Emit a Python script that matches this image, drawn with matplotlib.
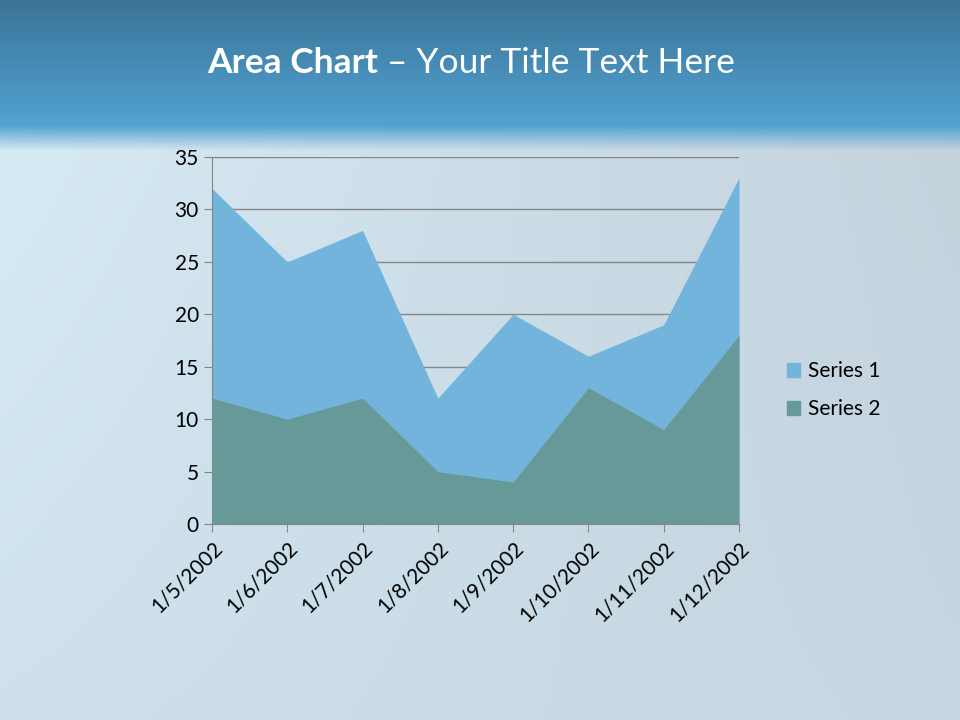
import numpy as np
import matplotlib.pyplot as plt
from matplotlib.patches import Patch

datas = ['1/5/2002', '1/6/2002', '1/7/2002', '1/8/2002', '1/9/2002',
         '1/10/2002', '1/11/2002', '1/12/2002']
serie1 = [32, 25, 28, 12, 20, 16, 19, 33]
serie2 = [12, 10, 12, 5, 4, 13, 9, 18]
y_ticks = [0, 5, 10, 15, 20, 25, 30, 35]

cor1 = '#72b4db'
cor2 = '#679999'

plt.rcParams['font.family'] = ['Lato', 'DejaVu Sans']

fig = plt.figure(figsize=(9.6, 7.2), dpi=100)

# fundo em degrade (faixa azul em cima, cinza-azulado embaixo)
bg = fig.add_axes([0, 0, 1, 1])
h, w = 720, 96
topo = np.array([0x3a, 0x74, 0x97]) / 255
meio = np.array([0x52, 0xa2, 0xd2]) / 255
esq = np.array([0xd6, 0xea, 0xf4]) / 255
dir_ = np.array([0xc4, 0xd2, 0xdc]) / 255
baixo = np.array([0xc8, 0xda, 0xe6]) / 255
img = np.zeros((h, w, 3))
for r in range(h):
    for c in range(w):
        tx = c / (w - 1)
        claro = esq * (1 - tx) + dir_ * tx
        if r < 125:
            t = r / 125
            img[r, c] = topo * (1 - t) + meio * t
        elif r < 150:
            t = (r - 125) / 25
            img[r, c] = meio * (1 - t) + claro * t
        else:
            t = (r - 150) / (h - 150)
            img[r, c] = claro * (1 - t * 0.6) + baixo * t * 0.6
bg.imshow(img, aspect='auto', extent=[0, 1, 0, 1], interpolation='bilinear')
bg.axis('off')

# titulo: parte em negrito + resto normal
t1 = fig.text(207 / 960, 0.912, 'Area Chart', color='white', fontsize=25.5,
              fontweight='bold', ha='left', va='center')
fig.canvas.draw()
bb = t1.get_window_extent()
fig.text(bb.x1 / 960, 0.912, ' – Your Title Text Here', color='white', fontsize=25.5,
         ha='left', va='center')

ax = fig.add_axes([212 / 960, 1 - 524 / 720, (739 - 212) / 960, (524 - 157) / 720])
ax.patch.set_alpha(0)
x = np.arange(len(datas))
ax.fill_between(x, 0, serie1, color=cor1, linewidth=0, zorder=2)
ax.fill_between(x, 0, serie2, color=cor2, linewidth=0, zorder=3)

ax.set_xlim(0, len(datas) - 1)
ax.set_ylim(0, 35)
ax.set_yticks(y_ticks)
ax.set_xticks(x)
ax.set_xticklabels(datas, rotation=45, ha='right', rotation_mode='anchor')
ax.grid(axis='y', color='#868686', linewidth=1, zorder=1)
ax.set_axisbelow(True)
for s in ['top', 'right']:
    ax.spines[s].set_visible(False)
for s in ['left', 'bottom']:
    ax.spines[s].set_color('#868686')
ax.spines['bottom'].set_zorder(4)
ax.tick_params(axis='x', length=6, color='#868686', labelsize=15, direction='out', pad=4)
ax.tick_params(axis='y', length=6, color='#868686', labelsize=15, direction='out')

handles = [Patch(color=cor1, label='Series 1'), Patch(color=cor2, label='Series 2')]
fig.legend(handles=handles, loc='center left', bbox_to_anchor=(0.80, 0.458),
           frameon=False, fontsize=15, handlelength=0.65, handleheight=0.65,
           handletextpad=0.35, labelspacing=0.87)

fig.savefig('out.png', dpi=100)
